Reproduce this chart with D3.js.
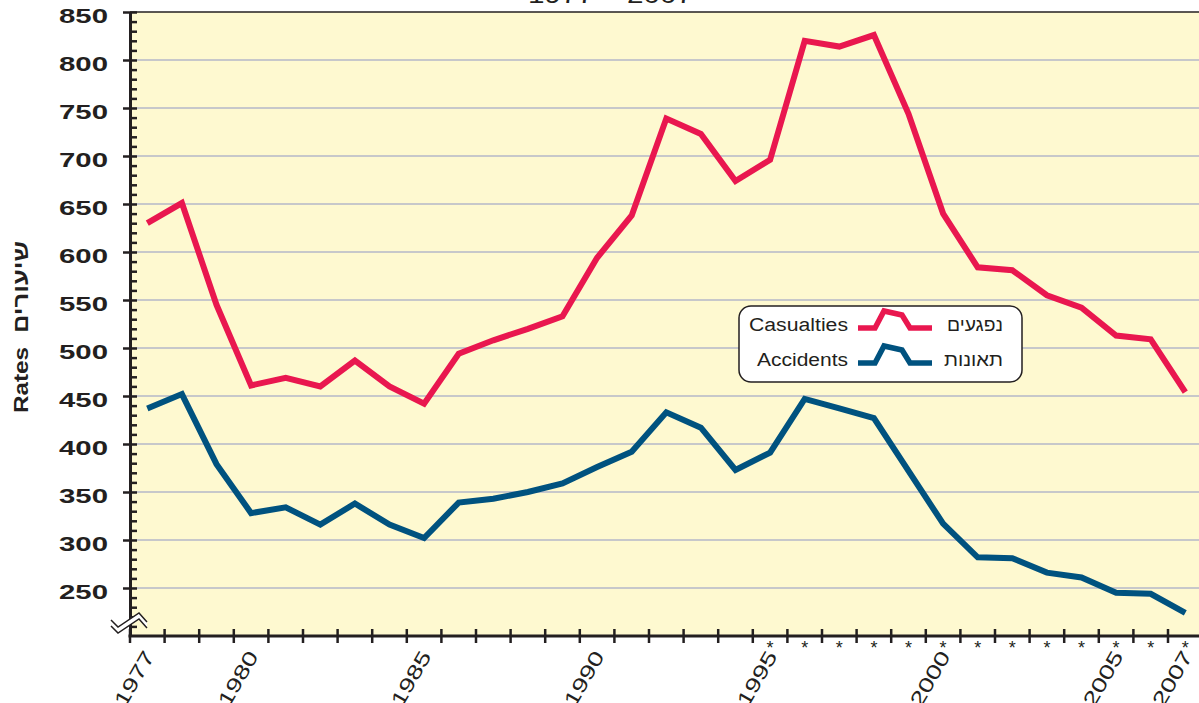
<!DOCTYPE html>
<html>
<head>
<meta charset="utf-8">
<script src="https://cdn.jsdelivr.net/npm/d3@7"></script>
<style>
  body { margin: 0; background: #fff; }
  svg text { font-family: "Liberation Sans", Arial, sans-serif; fill: #231f20; }
</style>
</head>
<body>
<div id="chart"></div>
<script>
// data
var years = [1977, 1978, 1979, 1980, 1981, 1982, 1983, 1984, 1985, 1986,
  1987, 1988, 1989, 1990, 1991, 1992, 1993, 1994, 1995, 1996,
  1997, 1998, 1999, 2000, 2001, 2002, 2003, 2004, 2005, 2006, 2007];
var casualties = [630, 651, 545, 461, 469, 460, 487, 460, 442, 494,
  508, 520, 533, 594, 638, 739, 723, 674, 696, 820,
  814, 826, 744, 640, 584, 581, 555, 542, 513, 509, 454];
var accidents = [437, 452, 379, 328, 334, 316, 338, 316, 302, 339,
  343, 350, 359, 376, 392, 433, 417, 373, 391, 447,
  437, 427, 372, 317, 282, 281, 266, 261, 245, 244, 224];
var yTicks = [250, 300, 350, 400, 450, 500, 550, 600, 650, 700, 750, 800, 850];
var labeledYears = [1977, 1980, 1985, 1990, 1995, 2000, 2005, 2007];
var starYears = [1995, 1996, 1997, 1998, 1999, 2000, 2001, 2002, 2003, 2004, 2005, 2006, 2007];
var series = [
  { name: "Casualties", heb: "נפגעים", values: casualties, color: "#e9174f", nameLen: 99, hebLen: 56 },
  { name: "Accidents", heb: "תאונות", values: accidents, color: "#00527f", nameLen: 91, hebLen: 59 }
];

var W = 1199, H = 703;
var margin = { top: 12, left: 130, bottom: 67 };
var bandW = 34.6;
var ink = "#231f20";

var svg = d3.select("#chart").append("svg")
  .attr("width", W).attr("height", H);

var x = d3.scaleBand()
  .domain(years)
  .range([margin.left, margin.left + years.length * bandW]);
var y = d3.scaleLinear()
  .domain([200, 850])
  .range([H - margin.bottom, margin.top]);
var yBottom = y(200);

// title (cut off by the top edge)
svg.append("text")
  .attr("x", 528).attr("y", 3)
  .attr("font-size", 24)
  .attr("textLength", 165).attr("lengthAdjust", "spacingAndGlyphs")
  .text("1977 – 2007");

// plot background
svg.append("rect")
  .attr("x", margin.left).attr("y", margin.top)
  .attr("width", W - margin.left).attr("height", yBottom - margin.top)
  .attr("fill", "#fef9d0");

// gridlines
svg.append("g").selectAll("line")
  .data(yTicks.filter(function (d) { return d < 850; }))
  .enter().append("line")
  .attr("x1", margin.left).attr("x2", W)
  .attr("y1", function (d) { return y(d); })
  .attr("y2", function (d) { return y(d); })
  .attr("stroke", "#c7c8ca").attr("stroke-width", 2);

// top border
svg.append("line")
  .attr("x1", margin.left).attr("x2", W)
  .attr("y1", margin.top).attr("y2", margin.top)
  .attr("stroke", ink).attr("stroke-width", 1.5);

// lines
var line = d3.line()
  .x(function (d, i) { return x(years[i]) + x.bandwidth() / 2; })
  .y(function (d) { return y(d); });

svg.append("g").selectAll("path")
  .data(series)
  .enter().append("path")
  .attr("d", function (d) { return line(d.values); })
  .attr("fill", "none")
  .attr("stroke", function (d) { return d.color; })
  .attr("stroke-width", 6)
  .attr("stroke-linejoin", "miter");

// y axis with labels
var yAxis = svg.append("g")
  .attr("transform", "translate(" + margin.left + ",0)")
  .call(d3.axisLeft(y).tickValues(yTicks).tickSize(7).tickSizeOuter(0).tickPadding(15));
yAxis.select(".domain").attr("stroke", ink).attr("stroke-width", 3);
yAxis.selectAll(".tick line").attr("stroke", ink).attr("stroke-width", 2.5);
yAxis.selectAll(".tick text")
  .attr("font-size", 19.5).attr("font-weight", "bold")
  .attr("dy", "0.56em")
  .attr("textLength", 49).attr("lengthAdjust", "spacingAndGlyphs")
  .attr("fill", ink)
  .style("font-family", "'Liberation Sans', Arial, sans-serif");

// minor ticks on the inside
var minor = svg.append("g")
  .attr("transform", "translate(" + margin.left + ",0)")
  .call(d3.axisRight(y).tickValues(d3.range(210, 851, 10)).tickSize(7).tickFormat(""));
minor.select(".domain").remove();
minor.selectAll(".tick line").attr("stroke", ink).attr("stroke-width", 2.5);

// x axis
svg.append("line")
  .attr("x1", margin.left - 1.5).attr("x2", W)
  .attr("y1", yBottom).attr("y2", yBottom)
  .attr("stroke", ink).attr("stroke-width", 3);
svg.append("g").selectAll("line")
  .data(years)
  .enter().append("line")
  .attr("x1", function (d) { return x(d); })
  .attr("x2", function (d) { return x(d); })
  .attr("y1", yBottom - 7).attr("y2", yBottom + 7)
  .attr("stroke", ink).attr("stroke-width", 2.5);

// year labels
svg.append("g").selectAll("text")
  .data(labeledYears)
  .enter().append("text")
  .attr("transform", function (d) {
    return "translate(" + (x(d) + x.bandwidth() / 2 + 8) + "," + (yBottom + 20) + ") rotate(-60)";
  })
  .attr("text-anchor", "end")
  .attr("font-size", 20)
  .attr("textLength", 60).attr("lengthAdjust", "spacingAndGlyphs")
  .text(function (d) { return d; });

// provisional-data stars
svg.append("g").selectAll("text")
  .data(starYears)
  .enter().append("text")
  .attr("x", function (d) { return x(d) + x.bandwidth() / 2; })
  .attr("y", yBottom + 18)
  .attr("text-anchor", "middle")
  .attr("font-size", 18)
  .text("*");

// axis break mark
var brk = svg.append("g");
brk.append("path")
  .attr("d", "M111,620 L118,627 L139,613 L147,622 L147,628 L139,619 L118,633 L111,626 Z")
  .attr("fill", "#fff");
brk.append("path")
  .attr("d", "M111,620 L118,627 L139,613 L147,622")
  .attr("fill", "none").attr("stroke", ink).attr("stroke-width", 1.5);
brk.append("path")
  .attr("d", "M111,626 L118,633 L139,619 L147,628")
  .attr("fill", "none").attr("stroke", ink).attr("stroke-width", 1.5);

// y title
svg.append("text")
  .attr("transform", "translate(28,380) rotate(-90)")
  .attr("text-anchor", "middle")
  .attr("font-size", 20).attr("font-weight", "bold")
  .attr("textLength", 66).attr("lengthAdjust", "spacingAndGlyphs")
  .text("Rates");
svg.append("text")
  .attr("transform", "translate(28,287) rotate(-90)")
  .attr("text-anchor", "middle")
  .attr("font-size", 21).attr("font-weight", "bold")
  .attr("textLength", 92).attr("lengthAdjust", "spacingAndGlyphs")
  .text("שיעורים");

// legend
var legend = svg.append("g").attr("transform", "translate(739,306)");
legend.append("rect")
  .attr("width", 283).attr("height", 76).attr("rx", 12)
  .attr("fill", "#fff").attr("stroke", ink).attr("stroke-width", 1.5);
var row = legend.selectAll(".row")
  .data(series)
  .enter().append("g")
  .attr("class", "row")
  .attr("transform", function (d, i) { return "translate(0," + (22 + i * 35) + ")"; });
row.append("text")
  .attr("x", 109).attr("y", 3)
  .attr("text-anchor", "end")
  .attr("font-size", 18)
  .attr("textLength", function (d) { return d.nameLen; })
  .attr("lengthAdjust", "spacingAndGlyphs")
  .text(function (d) { return d.name; });
row.append("path")
  .attr("d", "M119,0 L136,0 L145,-17 L163,-13 L171,0 L193,0")
  .attr("fill", "none")
  .attr("stroke", function (d) { return d.color; })
  .attr("stroke-width", 5.5);
row.append("text")
  .attr("x", 264).attr("y", 3)
  .attr("text-anchor", "end")
  .attr("font-size", 18)
  .attr("textLength", function (d) { return d.hebLen; })
  .attr("lengthAdjust", "spacingAndGlyphs")
  .text(function (d) { return d.heb; });
</script>
</body>
</html>
